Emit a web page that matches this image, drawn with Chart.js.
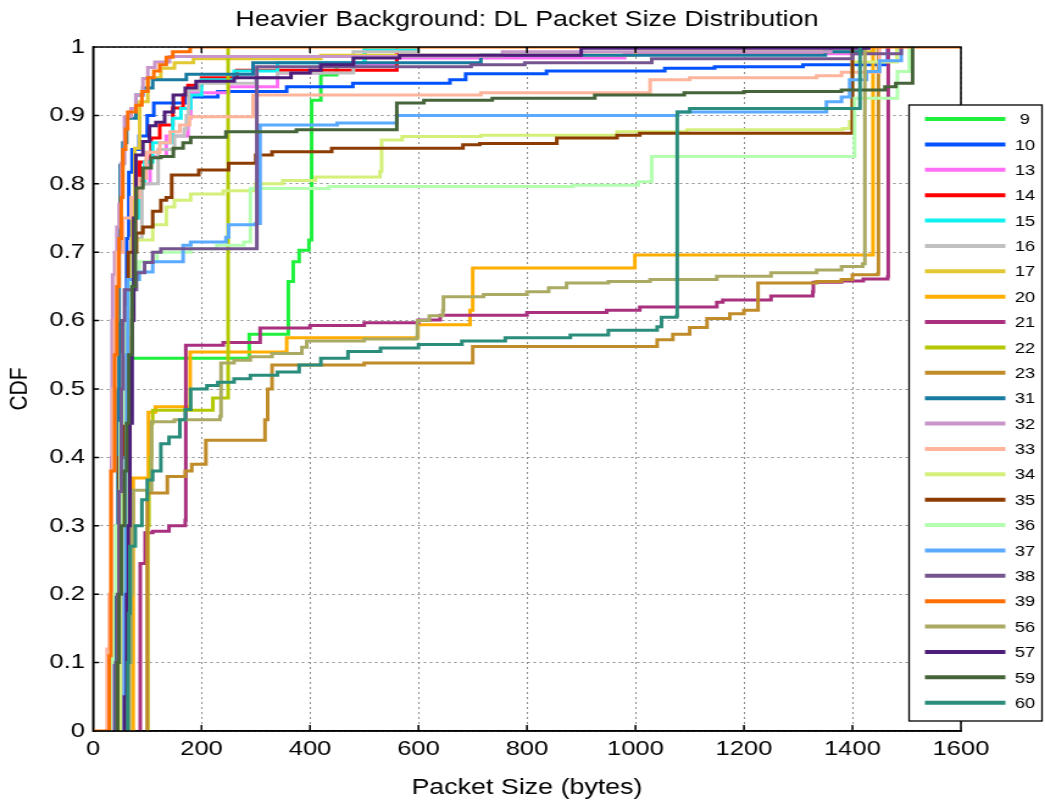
<!DOCTYPE html>
<html>
<head>
<meta charset="utf-8">
<title>DL Packet Size Distribution</title>
<script src="https://cdn.jsdelivr.net/npm/chart.js@4/dist/chart.umd.min.js"></script>
<style>
  body { margin: 0; background: #fff; }
  #wrap { width: 1045px; height: 805px; overflow: hidden; }
  /* the figure is drawn narrow and widened, so text and vertical strokes come out broad */
  #chart { display: block; transform: scaleX(1.2194); transform-origin: 0 0; }
</style>
</head>
<body>
<div id="wrap"><canvas id="chart" width="857" height="805"></canvas></div>
<script>
// CDF per trace: [packet size (bytes), cumulative fraction] at each jump
var s9  = [[55,0],[57,0.05],[58,0.2],[60,0.4],[61,0.545],[288,0.58],[360,0.657],[369,0.686],[380,0.703],[398,0.718],[403,0.922],[420,0.959],[449,0.975],[501,1]];
var s10 = [[46,0],[50,0.1],[52,0.25],[55,0.45],[58,0.6],[62,0.72],[66,0.817],[72,0.85],[85,0.87],[100,0.9],[112,0.918],[170,0.927],[230,0.935],[357,0.942],[479,0.947],[658,0.952],[687,0.961],[836,0.965],[1054,0.969],[1146,0.971],[1309,0.974],[1465,1]];
var s13 = [[52,0],[56,0.2],[60,0.45],[65,0.65],[72,0.75],[85,0.8],[105,0.84],[135,0.87],[175,0.896],[180,0.933],[250,0.942],[340,0.962],[420,0.975],[560,0.984],[980,0.99],[1420,1]];
var s14 = [[54,0],[58,0.2],[62,0.4],[66,0.6],[70,0.72],[78,0.78],[86,0.832],[107,0.867],[123,0.886],[147,0.911],[166,0.93],[175,0.944],[200,0.955],[265,0.966],[560,1]];
var s15 = [[54,0],[58,0.2],[63,0.45],[68,0.65],[74,0.75],[85,0.8],[95,0.832],[110,0.86],[147,0.896],[162,0.91],[180,0.93],[200,0.952],[260,0.965],[340,0.977],[500,0.996],[600,1]];
var s16 = [[50,0],[54,0.2],[58,0.45],[64,0.6],[70,0.72],[90,0.8],[120,0.85],[150,0.87],[168,0.88],[172,0.9],[176,0.937],[195,0.947],[300,0.955],[340,0.962],[480,0.993],[600,1]];
var s17 = [[62,0],[64,0.2],[66,0.4],[68,0.6],[72,0.75],[77,0.852],[86,0.92],[101,0.955],[125,0.969],[150,0.977],[185,0.983],[420,0.988],[1000,0.993],[1440,1]];
var s20 = [[72,0],[74,0.37],[102,0.466],[115,0.474],[179,0.554],[357,0.575],[599,0.594],[695,0.615],[700,0.677],[999,0.696],[1438,1]];
var s21 = [[86,0],[87,0.245],[96,0.29],[110,0.292],[140,0.3],[170,0.308],[171,0.564],[240,0.568],[308,0.589],[400,0.593],[500,0.597],[600,0.601],[640,0.608],[800,0.612],[947,0.615],[1008,0.62],[1150,0.627],[1161,0.63],[1250,0.636],[1327,0.642],[1328,0.656],[1380,0.658],[1420,0.661],[1465,0.664],[1466,1]];
var s22 = [[100,0],[101,0.3],[103,0.35],[106,0.4],[108,0.45],[110,0.469],[221,0.487],[249,1]];
var s23 = [[100,0],[100,0.348],[137,0.372],[170,0.38],[182,0.39],[208,0.425],[317,0.455],[322,0.5],[330,0.535],[500,0.538],[700,0.562],[1040,0.572],[1069,0.58],[1100,0.59],[1132,0.603],[1174,0.61],[1200,0.615],[1226,0.655],[1334,0.657],[1380,0.66],[1400,0.667],[1447,0.669],[1448,1]];
var s31 = [[36,0],[40,0.1],[43,0.3],[46,0.5],[48,0.7],[50,0.827],[55,0.86],[62,0.896],[79,0.93],[92,0.94],[110,0.952],[172,0.96],[295,0.977],[715,0.988],[1350,0.993],[1420,1]];
var s32 = [[33,0],[34,0.4],[35,0.6],[36,0.667],[40,0.7],[44,0.737],[48,0.77],[52,0.83],[58,0.898],[70,0.91],[79,0.93],[92,0.954],[101,0.97],[114,0.978],[141,0.986],[755,0.993],[1360,1]];
var s33 = [[22,0],[26,0.12],[30,0.2],[34,0.38],[37,0.5],[40,0.6],[44,0.7],[55,0.75],[70,0.78],[85,0.808],[98,0.846],[123,0.86],[142,0.876],[160,0.886],[178,0.898],[295,0.93],[715,0.933],[1027,0.952],[1100,0.955],[1334,0.958],[1380,0.963],[1450,1]];
var s34 = [[45,0],[50,0.2],[55,0.4],[60,0.58],[65,0.65],[70,0.7],[80,0.718],[110,0.74],[135,0.766],[150,0.776],[180,0.785],[240,0.79],[300,0.8],[350,0.805],[410,0.81],[529,0.818],[532,0.864],[570,0.869],[715,0.871],[966,0.876],[1095,0.879],[1382,0.881],[1395,0.891],[1400,0.978],[1482,1]];
var s35 = [[40,0],[45,0.2],[48,0.4],[55,0.6],[60,0.64],[65,0.7],[80,0.728],[92,0.737],[110,0.76],[125,0.776],[135,0.78],[145,0.813],[195,0.82],[250,0.83],[300,0.842],[330,0.847],[440,0.852],[682,0.857],[713,0.859],[855,0.867],[966,0.871],[1008,0.874],[1400,1]];
var s36 = [[28,0],[32,0.1],[36,0.2],[42,0.3],[50,0.45],[55,0.55],[60,0.62],[70,0.66],[85,0.686],[118,0.7],[180,0.705],[228,0.71],[278,0.715],[290,0.793],[435,0.796],[885,0.798],[1005,0.803],[1030,0.84],[1404,0.925],[1483,0.964],[1505,1]];
var s37 = [[55,0],[58,0.2],[60,0.4],[62,0.55],[64,0.66],[85,0.671],[110,0.686],[166,0.71],[180,0.715],[245,0.722],[250,0.74],[300,0.742],[308,0.886],[450,0.889],[560,0.9],[1078,0.905],[1352,0.92],[1380,0.927],[1395,0.952],[1426,0.964],[1450,0.98],[1490,1]];
var s38 = [[40,0],[42,0.1],[45,0.2],[48,0.35],[52,0.5],[55,0.6],[58,0.645],[80,0.67],[95,0.685],[110,0.7],[125,0.705],[302,0.971],[697,0.974],[796,0.977],[1030,0.983],[1400,0.99],[1490,1]];
var s39 = [[0,0],[30,0.11],[33,0.38],[40,0.55],[44,0.65],[48,0.72],[52,0.78],[55,0.85],[60,0.88],[64,0.905],[79,0.915],[90,0.935],[101,0.955],[112,0.965],[123,0.974],[135,0.985],[147,0.993],[179,1],[1600,1]];
var s56 = [[65,0],[67,0.1],[70,0.2],[72,0.3],[74,0.352],[108,0.452],[150,0.455],[234,0.46],[236,0.538],[260,0.542],[290,0.547],[330,0.552],[385,0.561],[394,0.57],[500,0.573],[597,0.576],[598,0.6],[620,0.607],[645,0.615],[646,0.635],[720,0.638],[800,0.642],[840,0.648],[873,0.655],[950,0.657],[1027,0.66],[1150,0.665],[1250,0.67],[1334,0.674],[1380,0.679],[1419,0.683],[1423,1]];
var s57 = [[55,0],[58,0.05],[62,0.2],[65,0.3],[68,0.45],[72,0.6],[75,0.75],[79,0.842],[92,0.862],[104,0.885],[116,0.89],[132,0.905],[148,0.93],[170,0.94],[190,0.95],[260,0.955],[365,0.962],[400,0.966],[420,0.974],[480,0.984],[565,0.988],[900,0.998],[1430,1]];
var s59 = [[42,0],[45,0.1],[48,0.2],[52,0.3],[58,0.38],[62,0.45],[66,0.55],[72,0.65],[78,0.75],[80,0.794],[92,0.823],[107,0.838],[125,0.84],[148,0.852],[166,0.86],[180,0.868],[245,0.876],[375,0.879],[560,0.918],[610,0.922],[736,0.925],[925,0.93],[1090,0.933],[1200,0.935],[1380,0.937],[1460,0.942],[1480,0.947],[1511,1]];
var s60 = [[62,0],[64,0.1],[66,0.172],[68,0.27],[78,0.3],[90,0.338],[100,0.367],[110,0.38],[125,0.42],[140,0.43],[160,0.455],[170,0.47],[180,0.5],[210,0.505],[230,0.51],[260,0.515],[290,0.52],[340,0.525],[380,0.535],[420,0.545],[470,0.555],[530,0.56],[600,0.565],[680,0.57],[760,0.575],[880,0.579],[950,0.586],[1040,0.591],[1048,0.605],[1076,0.607],[1077,0.905],[1100,0.91],[1414,1]];

var traces = [s9, s10, s13, s14, s15, s16, s17, s20, s21, s22, s23, s31, s32, s33, s34, s35, s36, s37, s38, s39, s56, s57, s59, s60];
var traceLabels = ['9','10','13','14','15','16','17','20','21','22','23','31','32','33','34','35','36','37','38','39','56','57','59','60'];
var traceColors = ['#1ef03c','#0052ff','#ff6ef5','#ff0000','#10f2f2','#c0c0c0','#e2c832','#ffae00','#a8307f','#b4c800','#c08c2a',
                   '#187aa0','#c896c8','#ffb49c','#d4f07a','#8c3c00','#b4ffb0','#5aaaff','#745590','#ff6e00','#aaaa64','#4c1e7a','#46643a','#2a8c7a'];
var xTicks = [0, 200, 400, 600, 800, 1000, 1200, 1400, 1600];

var FONT = 'Arial, "Liberation Sans", sans-serif';

var datasets = traces.map(function (t, i) {
  return {
    label: traceLabels[i],
    data: t.map(function (p) { return { x: p[0], y: p[1] }; }),
    borderColor: traceColors[i],
    backgroundColor: traceColors[i],
    borderWidth: 3,
    pointRadius: 0,
    stepped: true,
    fill: false,
    order: -i   // later traces on top
  };
});

// axes box, inward tick marks and the boxed legend on the right
var framePlugin = {
  id: 'frame',
  afterDraw: function (chart) {
    var ctx = chart.ctx, a = chart.chartArea;
    var xs = chart.scales.x, ys = chart.scales.y;
    ctx.save();
    ctx.strokeStyle = '#000';
    ctx.lineWidth = 1.5;
    ctx.beginPath();
    ctx.rect(a.left, a.top, a.right - a.left, a.bottom - a.top);
    xs.ticks.forEach(function (t) {
      var px = xs.getPixelForValue(t.value);
      ctx.moveTo(px, a.bottom); ctx.lineTo(px, a.bottom - 6);
      ctx.moveTo(px, a.top); ctx.lineTo(px, a.top + 6);
    });
    ys.ticks.forEach(function (t) {
      var py = ys.getPixelForValue(t.value);
      ctx.moveTo(a.left, py); ctx.lineTo(a.left + 5, py);
      ctx.moveTo(a.right, py); ctx.lineTo(a.right - 5, py);
    });
    ctx.stroke();

    // legend
    var lx = 745.5, ly = 105, lw = 109, lh = 616;
    ctx.fillStyle = '#fff';
    ctx.fillRect(lx, ly, lw, lh);
    ctx.lineWidth = 1.3;
    ctx.strokeRect(lx, ly, lw, lh);
    ctx.font = '15px ' + FONT;
    ctx.textAlign = 'center';
    ctx.textBaseline = 'middle';
    chart.data.datasets.forEach(function (ds, i) {
      var y = ly + 14 + i * 25.38;
      ctx.strokeStyle = ds.borderColor;
      ctx.lineWidth = 4;
      ctx.beginPath();
      ctx.moveTo(lx + 13, y);
      ctx.lineTo(lx + 79, y);
      ctx.stroke();
      ctx.fillStyle = '#000';
      ctx.fillText(ds.label, lx + 95, y + 1);
    });
    ctx.restore();
  }
};

new Chart(document.getElementById('chart'), {
  type: 'line',
  data: { datasets: datasets },
  plugins: [framePlugin],
  options: {
    responsive: false,
    animation: false,
    devicePixelRatio: 1,
    layout: { padding: { left: 0, right: 69, top: 0, bottom: 0 } },
    plugins: {
      legend: { display: false },
      tooltip: { enabled: false },
      title: {
        display: true,
        fullSize: false,   // centred over the plot area
        text: 'Heavier Background: DL Packet Size Distribution',
        color: '#000',
        font: { family: FONT, size: 22, weight: 'normal' },
        padding: { top: 7, bottom: 13.6 }
      }
    },
    scales: {
      x: {
        type: 'linear',
        min: 0,
        max: 1600,
        afterBuildTicks: function (scale) {
          scale.ticks = xTicks.map(function (v) { return { value: v }; });
        },
        afterFit: function (scale) { scale.height = 74; },
        ticks: {
          color: '#000',
          padding: 6,
          maxRotation: 0,
          font: { family: FONT, size: 21 },
          callback: function (v) { return String(v); }
        },
        grid: { color: '#8c8c8c', lineWidth: 1, drawTicks: false },
        border: { display: true, color: '#000', width: 1.5, dash: [2, 3] },
        title: {
          display: true,
          text: 'Packet Size (bytes)',
          color: '#000',
          font: { family: FONT, size: 22 },
          padding: { top: 0, bottom: 4 }
        }
      },
      y: {
        type: 'linear',
        min: 0,
        max: 1,
        afterFit: function (scale) { scale.width = 76.3; },
        ticks: {
          stepSize: 0.1,
          color: '#000',
          padding: 6.5,
          font: { family: FONT, size: 21 },
          callback: function (v) { return String(Math.round(v * 10) / 10); }
        },
        grid: { color: '#8c8c8c', lineWidth: 1, drawTicks: false },
        border: { display: true, color: '#000', width: 1.5, dash: [2, 3] },
        title: {
          display: true,
          text: 'CDF',
          color: '#000',
          font: { family: FONT, size: 21 },
          padding: { top: 4, bottom: 0 }
        }
      }
    }
  }
});
</script>
</body>
</html>
